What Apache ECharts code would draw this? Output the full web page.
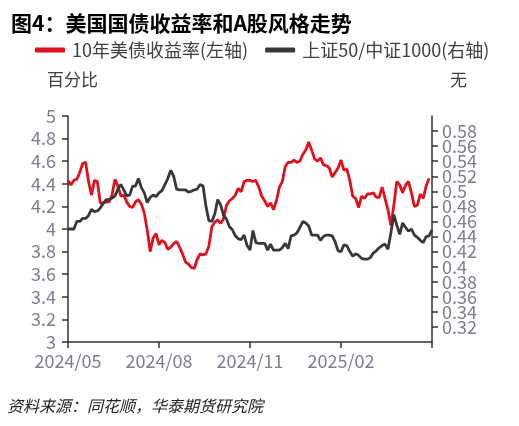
<!DOCTYPE html>
<html>
<head>
<meta charset="utf-8">
<script src="https://cdn.jsdelivr.net/npm/echarts@6/dist/echarts.min.js"></script>
<style>
html,body{margin:0;padding:0;background:#fff;}
#c{width:519px;height:426px;}
</style>
</head>
<body>
<div id="c"></div>
<script>
var titleText = '图4：美国国债收益率和A股风格走势';
var sourceText = '资料来源：同花顺，华泰期货研究院';
var seriesNames = ['10年美债收益率(左轴)', '上证50/中证1000(右轴)'];
var xTickLabels = ['2024/05', '2024/08', '2024/11', '2025/02', ''];
var rightTicks = [0.32,0.34,0.36,0.38,0.4,0.42,0.44,0.46,0.48,0.5,0.52,0.54,0.56,0.58];

var us10y = [
4.43,4.39,4.43,4.44,4.50,4.58,4.59,4.42,4.30,4.43,
4.42,4.23,4.23,4.24,4.24,4.30,4.44,4.38,4.29,4.30,
4.24,4.20,4.19,4.24,4.26,4.22,4.14,3.99,3.80,3.92,
3.96,3.86,3.90,3.88,3.82,3.84,3.87,3.89,3.84,3.78,
3.71,3.69,3.66,3.65,3.73,3.78,3.77,3.78,3.85,4.02,
4.06,4.08,4.05,4.09,4.21,4.25,4.27,4.30,4.36,4.33,
4.42,4.43,4.43,4.42,4.43,4.37,4.29,4.25,4.20,4.23,
4.17,4.25,4.37,4.42,4.55,4.59,4.59,4.61,4.59,4.60,
4.66,4.70,4.77,4.70,4.62,4.60,4.63,4.57,4.56,4.54,
4.46,4.50,4.54,4.61,4.52,4.53,4.43,4.29,4.27,4.19,
4.29,4.27,4.31,4.31,4.32,4.28,4.28,4.37,4.27,4.17,
4.03,4.21,4.42,4.39,4.32,4.39,4.42,4.32,4.20,4.21,
4.31,4.27,4.38,4.45,null
];

var sz50ToCsi1000 = [
0.450,0.450,0.450,0.460,0.460,0.464,0.464,0.468,0.476,0.473,
0.474,0.478,0.484,0.489,0.489,0.491,0.494,0.503,0.509,0.502,
0.494,0.495,0.507,0.507,0.517,0.505,0.498,0.485,0.492,0.495,
0.493,0.498,0.501,0.509,0.517,0.528,0.520,0.503,0.502,0.502,
0.502,0.499,0.500,0.502,0.503,0.509,0.507,0.480,0.461,0.460,
0.470,0.489,0.482,0.468,0.463,0.453,0.449,0.441,0.437,0.436,
0.442,0.428,0.422,0.448,0.432,0.431,0.431,0.431,0.422,0.430,
0.422,0.422,0.422,0.425,0.431,0.424,0.441,0.442,0.445,0.452,
0.460,0.458,0.454,0.442,0.442,0.442,0.435,0.440,0.442,0.442,
0.441,0.433,0.421,0.420,0.429,0.428,0.420,0.414,0.417,0.415,
0.411,0.410,0.410,0.412,0.418,0.421,0.425,0.428,0.430,0.423,
0.445,0.469,0.455,0.443,0.458,0.452,0.447,0.450,0.442,0.439,
0.435,0.432,0.440,0.441,0.449
];

var categories = us10y.map(function (_, i) { return i; });
var labelStep = 31;
var rightTicksA = rightTicks.filter(function (_, i) { return i % 2 === 0; });
var rightTicksB = rightTicks.filter(function (_, i) { return i % 2 === 1; });

var axisColor = '#333333';
var labelColor = '#7e7e8c';
var font = '"Noto Sans CJK SC", "Noto Sans", sans-serif';

function rightAxis(labels, showLine) {
  return {
    type: 'value', position: 'right', offset: 0,
    min: 0.3, max: 0.6, interval: 0.02,
    axisLine: {show: showLine, lineStyle: {color: axisColor, width: 1.5}},
    axisTick: {show: showLine, length: 6, customValues: rightTicks, lineStyle: {color: axisColor, width: 1.5}},
    axisLabel: {fontSize: 18, color: labelColor, margin: 10, fontFamily: font,
                customValues: labels, showMinLabel: true, showMaxLabel: true},
    splitLine: {show: false}
  };
}

var chart = echarts.init(document.getElementById('c'), null, {renderer: 'canvas'});
chart.setOption({
  animation: false,
  backgroundColor: '#ffffff',
  textStyle: {fontFamily: font},
  title: {
    text: titleText,
    left: 6, top: 8,
    textStyle: {fontSize: 21, fontWeight: 'bold', color: '#000', fontFamily: font}
  },
  legend: {
    left: 30, top: 36,
    itemWidth: 30, itemHeight: 5, itemGap: 17,
    icon: 'roundRect',
    textStyle: {fontSize: 18, color: '#404040', fontFamily: font, padding: [0,0,0,2]},
    data: seriesNames
  },
  graphic: [
    {type: 'text', left: 47, top: 71, style: {text: '百分比', fontSize: 17, fill: '#404040', fontFamily: font}},
    {type: 'text', left: 450, top: 71, style: {text: '无', fontSize: 17, fill: '#404040', fontFamily: font}},
    {type: 'text', left: 7, top: 398, style: {text: sourceText, fontSize: 16, fill: '#222', fontStyle: 'italic', fontFamily: font}}
  ],
  grid: {left: 68, right: 87, top: 116, bottom: 84, containLabel: false},
  xAxis: {
    type: 'category',
    data: categories,
    boundaryGap: false,
    axisLine: {lineStyle: {color: axisColor, width: 1.5}},
    axisTick: {interval: labelStep - 1, length: 6, lineStyle: {color: axisColor, width: 1.5}},
    axisLabel: {
      interval: labelStep - 1,
      margin: 10,
      fontSize: 18,
      color: labelColor,
      fontFamily: font,
      formatter: function (v, idx) { return xTickLabels[Math.round(idx / labelStep)] || ''; }
    },
    splitLine: {show: false}
  },
  yAxis: [
    {
      type: 'value', position: 'left',
      min: 3, max: 5, interval: 0.2,
      axisLine: {show: true, lineStyle: {color: axisColor, width: 1.5}},
      axisTick: {show: true, length: 6, lineStyle: {color: axisColor, width: 1.5}},
      axisLabel: {fontSize: 18, color: labelColor, margin: 12, fontFamily: font},
      splitLine: {show: false}
    },
    rightAxis(rightTicksA, true),
    rightAxis(rightTicksB, false)
  ],
  series: [
    {
      name: seriesNames[0], type: 'line', yAxisIndex: 0,
      data: us10y, showSymbol: false, symbol: 'none',
      lineStyle: {color: '#e0101c', width: 2.8},
      itemStyle: {color: '#e0101c'}
    },
    {
      name: seriesNames[1], type: 'line', yAxisIndex: 1,
      data: sz50ToCsi1000, showSymbol: false, symbol: 'none',
      lineStyle: {color: '#383838', width: 2.8},
      itemStyle: {color: '#383838'}
    }
  ]
});
</script>
</body>
</html>
